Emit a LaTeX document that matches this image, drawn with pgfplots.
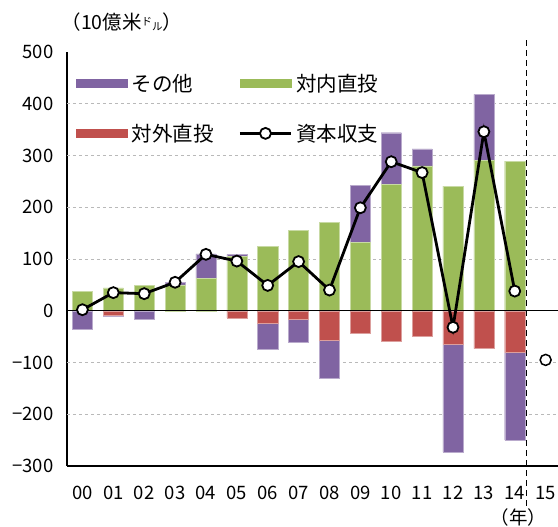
\documentclass[border=0pt]{standalone}
\usepackage{fontspec}
\setmainfont{Noto Sans CJK JP}
\usepackage{pgfplots}
\pgfplotsset{compat=1.18}
\usepackage{pgfplotstable}

\definecolor{cOther}{HTML}{8064A2}
\definecolor{cIn}{HTML}{9BBB59}
\definecolor{cOut}{HTML}{C0504D}

% 10億米ドル; other split into the part above the green bar and the part below the red one
\pgfplotstableread{
yr inward otherpos outward otherneg balance
0  38   0    0   -36    2
1  44   0   -8    -2   35
2  49   0    0   -16   33
3  50   5    0     0   55
4  63  47    0     0  109
5 105   4  -14     0   96
6 124   0  -24   -50   49
7 156   0  -16   -45   95
8 171   0  -57   -74   40
9 132 110  -43     0  199
10 244 100  -58    0  288
11 280  33  -49    0  267
12 241   0  -65 -208  -32
13 291 127  -73    0  346
14 289   0  -81 -169   38
}\fdidata

\pgfplotsset{
  base/.style={
    scale only axis, width=491pt, height=414pt,
    at={(0,0)}, anchor=south west,
    xmin=-0.5, xmax=15.4, ymin=-300, ymax=500,
    bar width=0.65, clip=false,
    font=\fontsize{18.5}{21}\selectfont,
  },
  every axis plot/.append style={line width=0.4pt},
}

\begin{document}
\begin{tikzpicture}

% positive parts + frame
\begin{axis}[base, ybar stacked,
    axis lines*=left, axis line style={line width=1.5pt, -},
    major tick length=0pt,
    ytick={-300,-200,...,500},
    yticklabels={−300,−200,−100,0,100,200,300,400,500},
    xtick={0,...,15},
    xticklabels={00,01,02,03,04,05,06,07,08,09,10,11,12,13,14,15},
    xticklabel style={yshift=-17pt},
    yticklabel style={xshift=-10pt},
    extra y ticks={-200,-100,100,200,300,400},
    extra y tick labels={},
    extra y tick style={grid=major, major tick length=0pt},
    grid style={dashed, gray!55, line width=0.6pt},
  ]
  \addplot[fill=cIn, draw=cIn!55!white] table[x=yr, y=inward] {\fdidata};
  \addplot[fill=cOther, draw=cOther!55!white] table[x=yr, y=otherpos] {\fdidata};
  \node[anchor=west] at ([xshift=-9pt, yshift=30pt]rel axis cs:0,1)
    {\fontsize{19.5}{22}\selectfont （10億米\raisebox{4pt}{\fontsize{10.5}{10}\selectfont ド}\raisebox{-1pt}{\fontsize{10.5}{10}\selectfont ル}）};
  \node at ([yshift=-51pt]axis cs:14.12,-300) {（年）};
\end{axis}

% negative parts
\begin{axis}[base, ybar stacked, hide axis]
  \addplot[fill=cOut, draw=cOut!55!white] table[x=yr, y=outward] {\fdidata};
  \addplot[fill=cOther, draw=cOther!55!white] table[x=yr, y=otherneg] {\fdidata};
\end{axis}

% balance line, zero line, legend
\begin{axis}[base, hide axis,
    legend columns=2,
    legend cell align=left,
    legend style={at={(rel axis cs:0,1)}, anchor=north west,
      xshift=6pt, yshift=-18pt,
      draw=none, fill=none, row sep=27pt,
      font=\fontsize{20.5}{23}\selectfont,
      nodes={inner xsep=4pt},
      /tikz/every even column/.append style={column sep=21pt}},
  ]
  \draw[line width=1.3pt] (axis cs:-0.5,0) -- (axis cs:15.4,0);
  \draw[line width=1.2pt, dash pattern=on 6pt off 4pt]
    ([yshift=-40pt]axis cs:14.38,-300) -- ([yshift=15pt]axis cs:14.38,500);

  \addlegendimage{legend image code/.code={\fill[cOther] (0pt,-4pt) rectangle (51pt,4pt);}}
  \addlegendentry{その他}
  \addlegendimage{legend image code/.code={\fill[cIn] (0pt,-4pt) rectangle (51pt,4pt);}}
  \addlegendentry{対内直投}
  \addlegendimage{legend image code/.code={\fill[cOut] (0pt,-4pt) rectangle (51pt,4pt);}}
  \addlegendentry{対外直投}
  \addlegendimage{legend image code/.code={
      \draw[line width=2.8pt] (0pt,0pt) -- (51pt,0pt);
      \draw[line width=1.8pt, fill=white] (25.5pt,0pt) circle (5.5pt);}}
  \addlegendentry{資本収支}

  \addplot[forget plot, black, line width=2.8pt, mark=*,
    mark options={fill=white, draw=black, line width=1.8pt}, mark size=5.5pt]
    table[x=yr, y=balance] {\fdidata};
  \addplot[forget plot, only marks, mark=*,
    mark options={fill=white, draw=black, line width=1.5pt}, mark size=5.5pt]
    coordinates {(15,-95)};
\end{axis}

\pgfresetboundingbox
\path[use as bounding box] (-67pt,-61pt) rectangle (491pt,466pt);
\end{tikzpicture}
\end{document}
